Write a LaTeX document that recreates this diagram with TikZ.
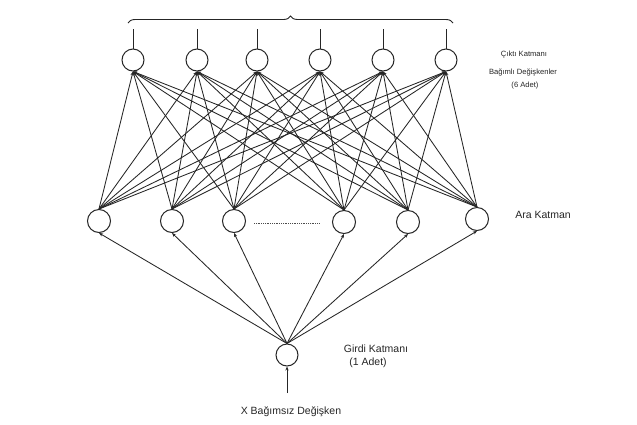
\documentclass[tikz,border=0pt]{standalone}
\usepackage{fontspec}
\setmainfont{Liberation Sans}
\usetikzlibrary{arrows.meta,decorations.pathreplacing}
\begin{document}
\begin{tikzpicture}[x=1pt,y=-1pt,
  neuron/.style={draw=black!85,line width=1pt,circle,minimum size=22pt,inner sep=0pt},
  link/.style={draw=black!85,line width=0.85pt},
  tip/.style={-{Stealth[length=4pt,width=3.2pt]}},
  lblsmall/.style={font=\fontsize{7.6}{9}\selectfont,text=black!85,inner sep=0pt},
  lblbig/.style={font=\fontsize{10.5}{12}\selectfont,text=black!85,inner sep=0pt}]
\useasboundingbox (0,0) rectangle (637,424);
\fill[white] (0,0) rectangle (637,424);
% output layer
\foreach \i/\x in {1/133,2/197,3/257,4/320,5/383,6/446}{
  \node[neuron] (o\i) at (\x,60) {};
  \coordinate (t\i) at (\x,29);
  \draw[link] (o\i.north) -- (t\i);
}
% hidden layer
\foreach \i/\x/\y in {1/99/221,2/172/221,3/234/221,4/344/222,5/408/222,6/477/219}{
  \node[neuron,minimum size=23pt] (h\i) at (\x,\y) {};
}
% input
\node[neuron] (in) at (287,355) {};
\coordinate (xin) at (287,393);
\draw[link,tip] (xin) -- (in.south);
% connections
\foreach \i in {1,...,6}{
  \foreach \j in {1,...,6}{
    \draw[link,tip] (h\i.north) -- (o\j.south);
  }
  \draw[link,tip] (in.north) -- (h\i.south);
}
% dotted
\coordinate (d1) at (254,223);
\coordinate (d2) at (320,223);
\draw[black!70,line width=0.8pt,densely dotted] (d1) -- (d2);
% brace
\coordinate (b1) at (128,23);
\coordinate (b2) at (453,23);
\draw[black!85,line width=0.9pt,decorate,decoration={brace,amplitude=7pt}] (b1) -- (b2);
% labels
\node[lblsmall] (l1) at (524,55) {Çıktı Katmanı};
\node[lblsmall] (l2) at (523,72) {Bağımlı Değişkenler};
\node[lblsmall] (l3) at (525,86) {(6 Adet)};
\node[lblbig] (l4) at (543,215) {Ara Katman};
\node[lblbig] (l5) at (376,349) {Girdi Katmanı};
\node[lblbig] (l6) at (368,363) {(1 Adet)};
\node[lblbig] (l7) at (291,412) {X Bağımsız Değişken};
\end{tikzpicture}
\end{document}
